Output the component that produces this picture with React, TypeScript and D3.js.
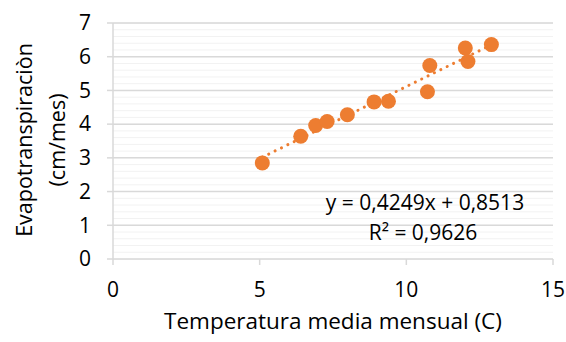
import React from 'react';
import * as d3 from 'd3';

// temperatura media mensual (C) vs evapotranspiracion (cm/mes)
const temperatura = [5.09, 6.4, 6.91, 7.3, 7.99, 8.9, 9.39, 10.72, 10.8, 12.01, 12.1, 12.9];
const evapo = [2.85, 3.64, 3.96, 4.08, 4.28, 4.66, 4.68, 4.96, 5.74, 6.26, 5.86, 6.36];

const xTicks = [0, 5, 10, 15];
const yTicks = [0, 1, 2, 3, 4, 5, 6, 7];
const yMinor = d3.range(0, 7.01, 0.2);

const ecuacion = 'y = 0,4249x + 0,8513';
const r2 = 'R² = 0,9626';

const W = 566;
const H = 342;
const margin = { top: 23, right: 13, bottom: 83, left: 113 };
const FONT = "'Open Sans', 'Noto Sans', sans-serif";
const ORANGE = '#ED7D31';

const App: React.FC = () => {
  const x = d3.scaleLinear().domain([0, 15]).range([margin.left, W - margin.right]);
  const y = d3.scaleLinear().domain([0, 7]).range([H - margin.bottom, margin.top]);

  // least squares trend line from the points
  const mx = d3.mean(temperatura)!;
  const my = d3.mean(evapo)!;
  const slope =
    d3.sum(temperatura, (t, i) => (t - mx) * (evapo[i] - my)) /
    d3.sum(temperatura, (t) => (t - mx) * (t - mx));
  const icpt = my - slope * mx;
  const [x0, x1] = d3.extent(temperatura) as [number, number];
  const trend = d3.line<number>().x((t) => x(t)).y((t) => y(slope * t + icpt));

  const pts = temperatura.map((t, i) => ({ t, e: evapo[i] }));

  return (
    <svg
      width={W}
      height={H}
      style={{ position: 'absolute', left: 0, top: 0, background: '#fff' }}
      fontFamily={FONT}
    >
      {/* minor grid */}
      {yMinor.map((v, i) => (
        <line key={'m' + i} x1={x(0)} x2={x(15)} y1={y(v)} y2={y(v)} stroke="#f2f2f2" strokeWidth={1} />
      ))}
      {/* major grid */}
      {yTicks.map((v) => (
        <line key={'g' + v} x1={x(0)} x2={x(15)} y1={y(v)} y2={y(v)} stroke="#d9d9d9" strokeWidth={1.5} />
      ))}
      {/* y axis line + ticks */}
      <line x1={x(0)} x2={x(0)} y1={y(0)} y2={y(7)} stroke="#d9d9d9" strokeWidth={1.5} />
      {yTicks.map((v) => (
        <line key={'yt' + v} x1={x(0) - 6} x2={x(0)} y1={y(v)} y2={y(v)} stroke="#d9d9d9" strokeWidth={1.5} />
      ))}
      {/* x axis ticks */}
      {xTicks.map((v) => (
        <line key={'xt' + v} x1={x(v)} x2={x(v)} y1={y(0)} y2={y(0) + 6} stroke="#d9d9d9" strokeWidth={1.5} />
      ))}

      {/* tick labels */}
      {yTicks.map((v) => (
        <text key={'yl' + v} x={x(0) - 22} y={y(v)} dy="0.35em" textAnchor="end" fontSize={21} fill="#000">
          {v}
        </text>
      ))}
      {xTicks.map((v) => (
        <text key={'xl' + v} x={x(v)} y={y(0) + 31} dy="0.35em" textAnchor="middle" fontSize={21} fill="#000">
          {v}
        </text>
      ))}

      {/* trend line */}
      <path
        d={trend([x0, x1]) || ''}
        fill="none"
        stroke={ORANGE}
        strokeWidth={3}
        strokeDasharray="0.1 7"
        strokeLinecap="round"
      />

      {/* points */}
      {pts.map((p, i) => (
        <circle key={i} cx={x(p.t)} cy={y(p.e)} r={7.5} fill={ORANGE} />
      ))}

      {/* equation */}
      <text x={425} y={210} textAnchor="middle" fontSize={21} fill="#000">
        {ecuacion}
      </text>
      <text x={423} y={240} textAnchor="middle" fontSize={21} fill="#000">
        {r2}
      </text>

      {/* axis titles */}
      <text x={333} y={329} textAnchor="middle" fontSize={22.5} fill="#000">
        Temperatura media mensual (C)
      </text>
      <text transform={`translate(32,${140}) rotate(-90)`} textAnchor="middle" fontSize={21.5} fill="#000">
        Evapotranspiraciòn
      </text>
      <text transform={`translate(65,${140}) rotate(-90)`} textAnchor="middle" fontSize={21.5} fill="#000">
        (cm/mes)
      </text>
    </svg>
  );
};

export default App;
